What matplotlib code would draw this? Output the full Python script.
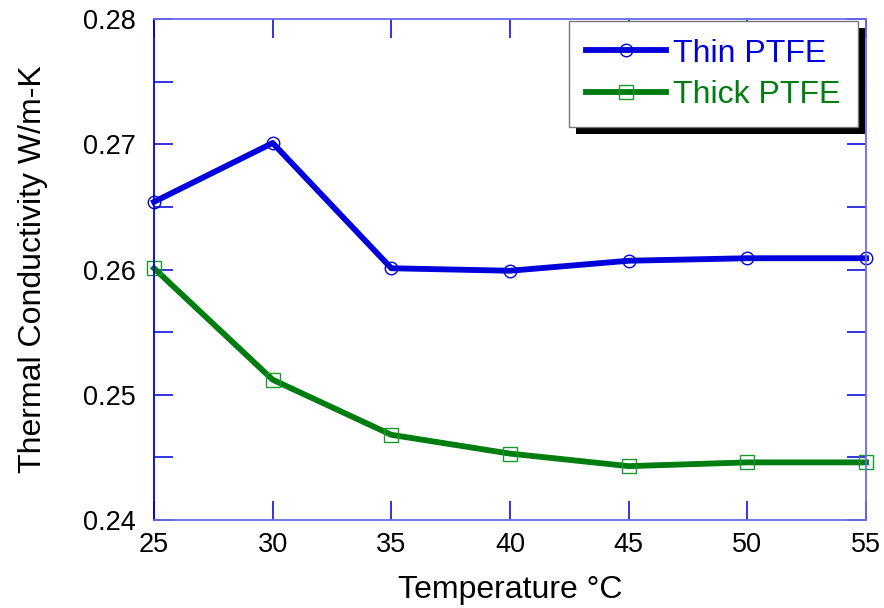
import matplotlib
matplotlib.use("Agg")
import matplotlib.pyplot as plt
from matplotlib.patches import Rectangle
from matplotlib.ticker import MultipleLocator

temps = [25, 30, 35, 40, 45, 50, 55]
thin = [0.2654, 0.2701, 0.2601, 0.2599, 0.2607, 0.2609, 0.2609]
thick = [0.2601, 0.2512, 0.2468, 0.2453, 0.2443, 0.2446, 0.2446]

blue = '#0000dd'
green = '#007d10'

plt.rcParams['font.family'] = ['Liberation Sans', 'DejaVu Sans']

fig = plt.figure(figsize=(8.84, 6.08), dpi=100)
ax = fig.add_axes([154 / 884, 1 - 520 / 608, 712 / 884, 501 / 608])

ax.plot(temps, thin, color=blue, lw=4.2, marker='o', ms=9,
        mfc='none', mec=blue, mew=1.0, label='Thin PTFE', clip_on=False)
ax.plot(temps, thick, color=green, lw=4.2, marker='s', ms=10,
        mfc='none', mec='#1a9a2a', mew=1.0, label='Thick PTFE', clip_on=False)

ax.set_xlim(25, 55)
ax.set_ylim(0.24, 0.28)
ax.set_xticks(temps)
ax.set_yticks([0.24, 0.25, 0.26, 0.27, 0.28])
ax.set_yticklabels(['0.24', '0.25', '0.26', '0.27', '0.28'])
ax.yaxis.set_minor_locator(MultipleLocator(0.005))

for name, s in ax.spines.items():
    s.set_color('#0000dd' if name == 'left' else '#6a6aee')
    s.set_linewidth(1.3)
ax.tick_params(which='both', direction='in', color='#1010dd', width=1.2,
               top=True, right=True, labelsize=19.5, length=14)
ax.tick_params(axis='y', pad=13)
ax.tick_params(axis='x', pad=9)

ax.set_xlabel('Temperature °C', fontsize=23, labelpad=12)
ax.set_ylabel('Thermal Conductivity W/m-K', fontsize=23, labelpad=25)

leg = ax.legend(loc='upper right', bbox_to_anchor=(0.9888, 0.996), fontsize=23,
                frameon=True, fancybox=False, shadow=False,
                borderpad=0.55, handlelength=2.5, handletextpad=0.22,
                labelspacing=0.35, borderaxespad=0)
leg.get_frame().set_edgecolor('#777777')
leg.get_frame().set_linewidth(1.0)
leg.get_frame().set_alpha(1)
leg.set_zorder(6)
for t, c in zip(leg.get_texts(), [blue, green]):
    t.set_color(c)

# heavy drop shadow behind the legend box
fig.canvas.draw()
bb = leg.get_window_extent().transformed(fig.transFigure.inverted())
dx, dy = 7 / 884, 7 / 608
shadow = Rectangle((bb.x0 + dx, bb.y0 - dy), bb.width, bb.height,
                   transform=fig.transFigure, facecolor='black',
                   edgecolor='none', zorder=5.5, clip_on=False)
ax.add_artist(shadow)

fig.savefig('out.png', dpi=100)
